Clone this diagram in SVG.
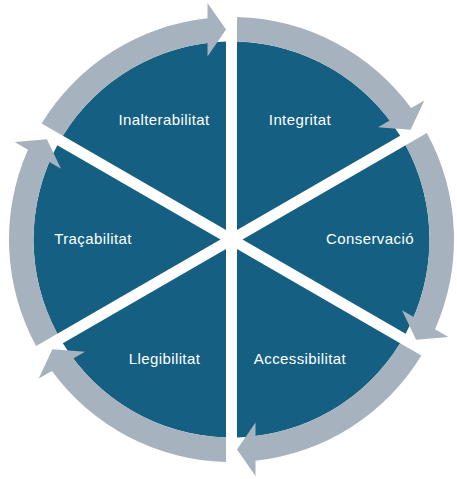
<svg xmlns="http://www.w3.org/2000/svg" width="457" height="479" viewBox="0 0 457 479">
<style>
.seg{fill:#156082;}
.arr{fill:#A7B2BF;}
.lbl{fill:#FFFFFF;font-family:"Liberation Sans","Noto Sans",Arial,sans-serif;font-size:15px;letter-spacing:0.4px;text-anchor:middle;}
</style>
<rect width="457" height="479" fill="#FFFFFF"/>
<g id="node-integritat">
<path class="seg" d="M237.0,229.97 L236.99,41.58 A198 198 0 0 1 400.17,135.80 Z"/>
<text class="lbl" x="300" y="125">Integritat</text>
</g>
<g id="node-conservacio">
<path class="seg" d="M242.5,239.5 L405.67,145.32 A198 198 0 0 1 405.67,333.68 Z"/>
<text class="lbl" x="370" y="244">Conservació</text>
</g>
<g id="node-accessibilitat">
<path class="seg" d="M237.0,249.03 L400.17,343.20 A198 198 0 0 1 236.99,437.42 Z"/>
<text class="lbl" x="300" y="364">Accessibilitat</text>
</g>
<g id="node-llegibilitat">
<path class="seg" d="M226.0,249.03 L226.01,437.42 A198 198 0 0 1 62.83,343.20 Z"/>
<text class="lbl" x="164.5" y="364">Llegibilitat</text>
</g>
<g id="node-tracabilitat">
<path class="seg" d="M220.5,239.5 L57.33,333.68 A198 198 0 0 1 57.33,145.32 Z"/>
<text class="lbl" x="93" y="244">Traçabilitat</text>
</g>
<g id="node-inalterabilitat">
<path class="seg" d="M226.0,229.97 L62.83,135.80 A198 198 0 0 1 226.01,41.58 Z"/>
<text class="lbl" x="164" y="125">Inalterabilitat</text>
</g>
<g id="connectors">
<path class="arr" d="M237.0,17.07 A222.5 222.5 0 0 1 411.06,108.12 L424.31,100.47 L410.61,129.74 L377.98,127.22 L389.70,120.45 A198 198 0 0 0 237.0,41.58 Z"/>
<path class="arr" d="M426.88,133.05 A222.5 222.5 0 0 1 435.06,329.32 L448.31,336.97 L416.11,339.74 L401.98,310.22 L413.70,316.99 A198 198 0 0 0 405.65,145.30 Z"/>
<path class="arr" d="M421.38,355.48 A222.5 222.5 0 0 1 255.5,460.7 L255.5,476.0 L237.0,449.5 L255.5,422.5 L255.5,436.04 A198 198 0 0 0 400.15,343.22 Z"/>
<path class="arr" d="M226.0,461.93 A222.5 222.5 0 0 1 51.94,370.88 L38.69,378.53 L52.39,349.26 L85.02,351.78 L73.30,358.55 A198 198 0 0 0 226.0,437.42 Z"/>
<path class="arr" d="M36.12,345.95 A222.5 222.5 0 0 1 27.94,149.68 L14.69,142.03 L46.89,139.26 L61.02,168.78 L49.30,162.01 A198 198 0 0 0 57.35,333.70 Z"/>
<path class="arr" d="M41.62,123.52 A222.5 222.5 0 0 1 207.5,18.3 L207.5,3.0 L226.0,29.5 L207.5,56.5 L207.5,42.96 A198 198 0 0 0 62.85,135.78 Z"/>
</g>
</svg>
